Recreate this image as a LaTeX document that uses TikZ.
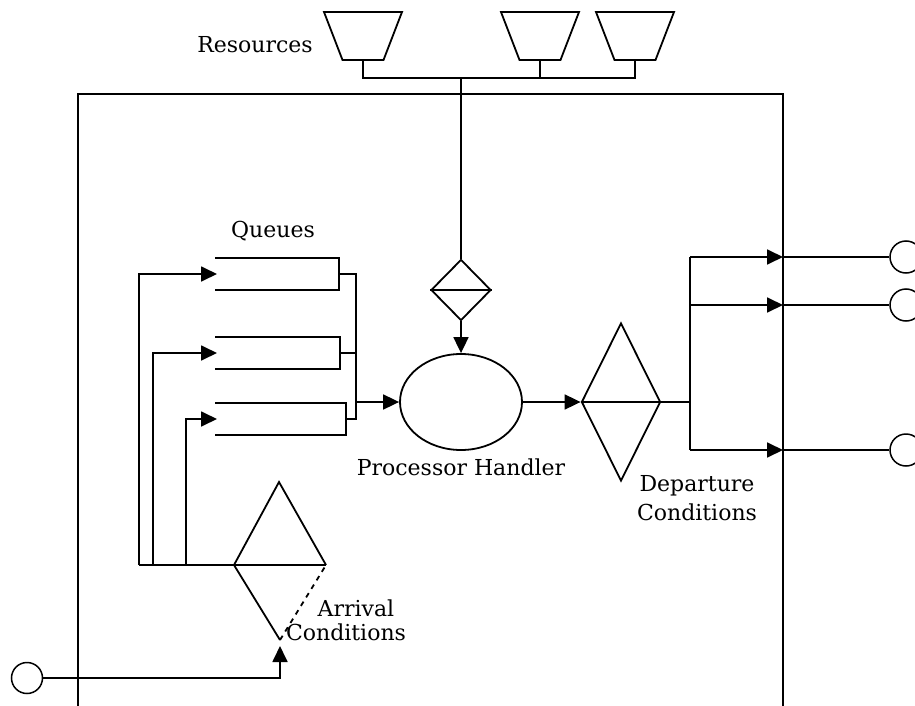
\documentclass[tikz,border=0pt]{standalone}
\usepackage{fontspec}
\setmainfont{DejaVu Serif}
\usetikzlibrary{shapes.geometric,arrows.meta}
\begin{document}
\begin{tikzpicture}[x=1pt,y=-1pt,
  ln/.style={line width=1.8pt},
  arr/.style={ln,-{Triangle[length=16pt,width=15pt]}},
  lbl/.style={font=\fontsize{22}{26}\selectfont, inner sep=0pt},
  dia/.style={diamond, draw, ln, inner sep=0pt},
  endc/.style={circle, draw, line width=1.5pt, minimum size=31pt, inner sep=0pt}]
\useasboundingbox (0,0) rectangle (915,706);
\clip (0,0) rectangle (915,706);
\fill[white] (0,0) rectangle (915,706);

% resources
\foreach \i/\cx in {1/363,2/540,3/635}{
  \draw[ln] (\cx-39,12) -- (\cx+39,12) -- (\cx+20.5,60) -- (\cx-20.5,60) -- cycle;
  \coordinate (res\i) at (\cx,60);
}
\coordinate (bus) at (461,78);
\draw[ln] (res1) -- ++(0,18) -| (res3);
\draw[ln] (res2) -- ++(0,18);

% system box
\draw[ln] (78,706) -- (78,94) -- (783,94) -- (783,706);

% processor and resource condition
\node[ellipse, draw, ln, minimum width=122pt, minimum height=96pt, inner sep=0pt] (ph) at (461,402) {};
\node[dia, minimum width=60pt, minimum height=61pt] (rd) at (461,290) {};
\draw[ln] (rd.west) -- (rd.east);
\draw[ln] (bus) -- (rd.north);
\draw[arr] (rd.south) -- (ph.north);

% queues
\foreach \i/\y/\r in {1/258/339, 2/337/340, 3/403/346}{
  \draw[ln] (215,\y) -- (\r,\y) -- (\r,\y+32) -- (215,\y+32);
  \coordinate (qin\i) at (217,\y+16);
  \coordinate (qout\i) at (\r,\y+16);
}
\coordinate (colT) at (356,274);
\coordinate (colB) at (356,419);
\draw[ln] (qout1) -- (colT) -- (colB) -- (qout3);
\draw[ln] (qout2) -- (qout2 -| colT);
\draw[arr] (colT |- ph.west) -- (ph.west);

% arrival condition
\coordinate (aT) at (279,482);
\coordinate (aL) at (234,565);
\coordinate (aR) at (326,565);
\coordinate (aB) at (280,640);
\draw[ln] (aR) -- (aT) -- (aL) -- (aB);
\draw[ln, dash pattern=on 5pt off 5pt] (aB) -- (aR);
\draw[ln] (aL) -- (aR);

% feeders
\coordinate (f1) at (139,565);
\coordinate (f2) at (153,565);
\coordinate (f3) at (186,565);
\draw[ln] (f1) -- (aL);
\draw[arr] (f1) |- (qin1);
\draw[arr] (f2) |- (qin2);
\draw[arr] (f3) |- (qin3);

% source
\node[endc] (src) at (27,678) {};
\coordinate (aIn) at (280,646);
\draw[arr] (src) -| (aIn);

% departure condition
\node[dia, minimum width=79pt, minimum height=158pt] (dd) at (621,402) {};
\draw[ln] (dd.west) -- (dd.east);
\draw[arr] (ph.east) -- (dd.west);
\coordinate (split) at (690,402);
\draw[ln] (dd.east) -- (split);
\draw[ln] (690,257) -- (690,450);
\foreach \i/\y in {1/257,2/305,3/450}{
  \coordinate (sp\i) at (690,\y);
  \coordinate (ex\i) at (783,\y);
  \node[endc, minimum size=32pt] (out\i) at (906,\y) {};
  \draw[arr] (sp\i) -- (ex\i);
  \draw[ln] (ex\i) -- (out\i);
}

% labels
\node[lbl] (lres) at (255,45) {Resources};
\node[lbl] (lq) at (273,231) {Queues};
\node[lbl] (lph) at (461,467) {Processor Handler};
\node[lbl] (ld1) at (697,486) {Departure};
\node[lbl] (ld2) at (697,512) {Conditions};
\node[lbl] (la1) at (356,608) {Arrival};
\node[lbl] (la2) at (346,632) {Conditions};
\end{tikzpicture}
\end{document}
